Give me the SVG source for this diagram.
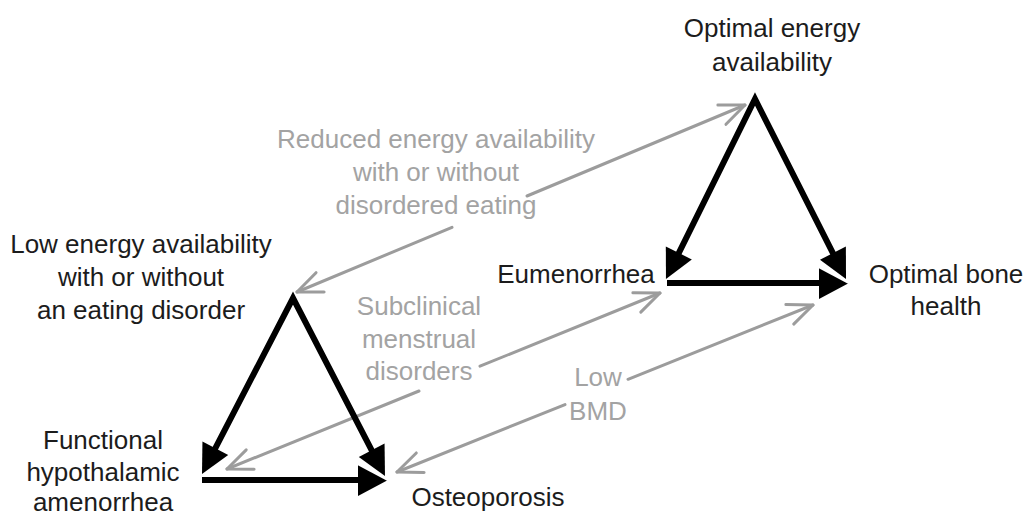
<svg xmlns="http://www.w3.org/2000/svg" width="1029" height="518" viewBox="0 0 1029 518">
<style>
text { font-family: "Liberation Sans", Arial, Helvetica, sans-serif; font-size: 26px; text-anchor: middle; }
.node text { fill: #1c1c1c; }
.glabel text { fill: #a3a3a3; }
.blk { fill: none; stroke: #000; stroke-width: 6; stroke-linejoin: miter; stroke-linecap: butt; }
.gry { fill: none; stroke: #9c9c9c; stroke-width: 3; stroke-linecap: round; }
</style>
<defs>
<marker id="bh" markerUnits="userSpaceOnUse" orient="auto-start-reverse" overflow="visible" refX="0" refY="0" markerWidth="1" markerHeight="1">
<path d="M-19,-14.5 L10,0 L-19,14.5 z" fill="#000"/>
</marker>
<marker id="bhw" markerUnits="userSpaceOnUse" orient="auto" overflow="visible" refX="0" refY="0" markerWidth="1" markerHeight="1">
<path d="M-20,-16 L10,0 L-20,16 z" fill="#000"/>
<path d="M-21,-16.5 L11,0.5" fill="none" stroke="#fff" stroke-width="2.5"/>
</marker>
<marker id="gh" markerUnits="userSpaceOnUse" orient="auto" overflow="visible" refX="0" refY="0" markerWidth="1" markerHeight="1">
<path d="M-25,-10.5 L0,0 L-25,10.5" fill="none" stroke="#9c9c9c" stroke-width="3" stroke-linecap="round" stroke-linejoin="round"/>
</marker>
</defs>
<rect width="1029" height="518" fill="#fff"/>
<g id="connectors">
<path class="gry" d="M452,227.3 L297,292" marker-end="url(#gh)"/>
<path class="gry" d="M527,196 L745,105" marker-end="url(#gh)"/>
<path class="gry" d="M419,391 L227,469" marker-end="url(#gh)"/>
<path class="gry" d="M480,366.2 L660,293" marker-end="url(#gh)"/>
<path class="gry" d="M565,404.6 L397,472" marker-end="url(#gh)"/>
<path class="gry" d="M628,379.3 L813,305" marker-end="url(#gh)"/>
<path class="blk" d="M670.4,270 L755,99 L841.5,270.1" marker-start="url(#bh)" marker-end="url(#bh)"/>
<path class="blk" d="M667,283 L839,283" marker-end="url(#bhw)"/>
<path class="blk" d="M206.6,465.1 L293,298 L380.4,467.1" marker-start="url(#bh)" marker-end="url(#bh)"/>
<path class="blk" d="M202,480 L378,480" marker-end="url(#bhw)"/>
</g>
<g id="connector-labels" class="glabel">
<text x="436" y="148">Reduced energy availability</text>
<text x="436" y="181">with or without</text>
<text x="436" y="214">disordered eating</text>
<text x="419" y="315">Subclinical</text>
<text x="419" y="348">menstrual</text>
<text x="419" y="380">disorders</text>
<text x="598" y="386">Low</text>
<text x="598" y="420">BMD</text>
</g>
<g id="node-optimal-energy" class="node">
<text x="772" y="37">Optimal energy</text>
<text x="772" y="71">availability</text>
</g>
<g id="node-eumenorrhea" class="node">
<text x="576" y="283">Eumenorrhea</text>
</g>
<g id="node-optimal-bone" class="node">
<text x="946" y="283">Optimal bone</text>
<text x="946" y="315">health</text>
</g>
<g id="node-low-energy" class="node">
<text x="141" y="253">Low energy availability</text>
<text x="141" y="286">with or without</text>
<text x="141" y="319">an eating disorder</text>
</g>
<g id="node-fha" class="node">
<text x="103" y="449">Functional</text>
<text x="103" y="481">hypothalamic</text>
<text x="103" y="511">amenorrhea</text>
</g>
<g id="node-osteoporosis" class="node">
<text x="488" y="506">Osteoporosis</text>
</g>
</svg>
